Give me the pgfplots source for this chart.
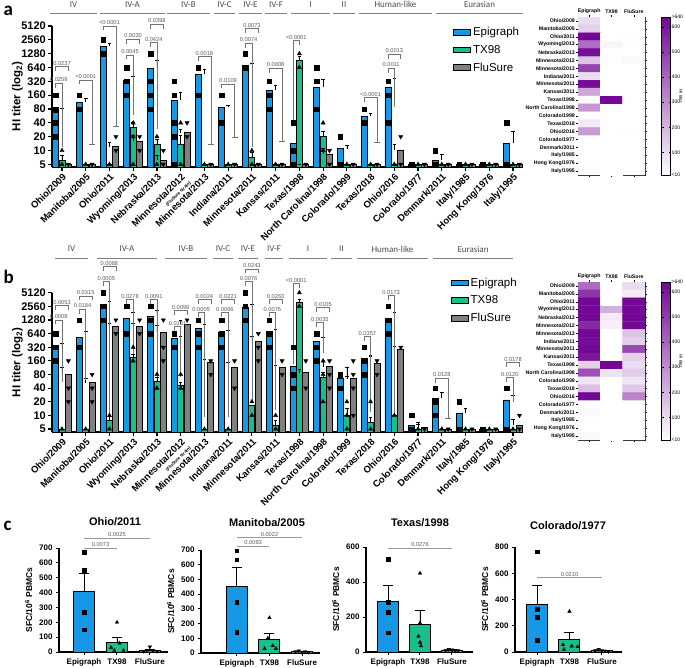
\documentclass[border=0pt]{standalone}
\usepackage{pgfplots}
\pgfplotsset{compat=1.18}
\usepackage{fontspec}
\setmainfont{Liberation Sans}
\newfontfamily\carl{Carlito}
\definecolor{epi}{RGB}{22,152,230}
\definecolor{tx}{RGB}{24,190,140}
\definecolor{flu}{RGB}{128,128,128}
\definecolor{hm}{RGB}{115,8,150}
\newcommand\brk[6]{\draw[br] (axis cs:#1,#4) -- (axis cs:#1,#3) -- node[pl]{#6} (axis cs:#2,#3) -- (axis cs:#2,#5);}
\newcommand\capx[2]{\draw[br] ([xshift=-3pt]axis cs:#1,#2) -- ([xshift=3pt]axis cs:#1,#2);}
\newcommand\xlabs{Ohio/2009,Manitoba/2005,Ohio/2011,Wyoming/2013,Nebraska/2013,{Minnesota/2012\\{\fontsize{4.5}{5}\selectfont(FluSure strain)}},Minnesota/2013,Indiana/2011,Minnesota/2011,Kansas/2011,Texas/1998,North Carolina/1998,Colorado/1999,Texas/2018,Ohio/2016,Colorado/1977,Denmark/2011,Italy/1985,Hong Kong/1976,Italy/1995}
\newcommand\hlabs{Ohio/2009,Manitoba/2005,Ohio/2011,Wyoming/2013,Nebraska/2013,Minnesota/2012,Minnesota/2013,Indiana/2011,Minnesota/2011,Kansas/2011,Texas/1998,North Carolina/1998,Colorado/1999,Texas/2018,Ohio/2016,Colorado/1977,Denmark/2011,Italy/1985,Hong Kong/1976,Italy/1995}
\tikzset{br/.style={draw=black!55, line width=0.6pt},
 pl/.style={above, font=\fontsize{5.7}{6}\selectfont, text=black!65, inner sep=1pt},
 grp/.style={font=\carl\fontsize{9}{10}\selectfont, text=black!70},
 gl/.style={draw=black!50, line width=0.6pt},
 sig/.style={draw=black!40, line width=1pt}}
\pgfplotsset{
 ebbar/.style={ybar, bar width=6pt, bar shift=-6.4pt, fill=epi, draw=black, line width=0.8pt, error bars/y dir=plus, error bars/y explicit, error bars/error bar style={line width=0.7pt, black}, error bars/error mark options={rotate=90, mark size=1.8pt, line width=0.7pt, black}},
 txbar/.style={ybar, bar width=6pt, bar shift=0pt, fill=tx, draw=black, line width=0.8pt, error bars/y dir=plus, error bars/y explicit, error bars/error bar style={line width=0.7pt, black}, error bars/error mark options={rotate=90, mark size=1.8pt, line width=0.7pt, black}},
 flbar/.style={ybar, bar width=6pt, bar shift=6.4pt, fill=flu, draw=black, line width=0.8pt, error bars/y dir=plus, error bars/y explicit, error bars/error bar style={line width=0.7pt, black}, error bars/error mark options={rotate=90, mark size=1.8pt, line width=0.7pt, black}},
 msq/.style={only marks, mark=square*, mark size=2.2pt, black, forget plot},
 mtr/.style={only marks, mark=triangle*, mark size=2.4pt, black, forget plot},
 minv/.style={only marks, mark=triangle*, mark size=2.4pt, mark options={rotate=180}, black, forget plot},
 cbar/.style={ybar, bar width=21pt, bar shift=0pt, draw=black, line width=1pt, error bars/y dir=plus, error bars/y explicit,
  error bars/error bar style={line width=0.8pt, black}, error bars/error mark options={rotate=90, mark size=5pt, line width=0.8pt, black}},
}
\begin{document}
\begin{tikzpicture}[x=1pt,y=1pt]
\path[use as bounding box] (0,0) rectangle (685,-667);
% ---------------- panel labels
\node[font=\carl\bfseries\fontsize{19}{19}\selectfont, anchor=west] at (0,-11) {a};
\node[font=\carl\bfseries\fontsize{19}{19}\selectfont, anchor=west] at (0,-277) {b};
\node[font=\carl\bfseries\fontsize{19}{19}\selectfont, anchor=west] at (0,-526) {c};
% ---------------- group labels
\foreach \a/\b/\t in {50/97/IV,100/165/IV-A,167/210/IV-B,214/235/IV-C,239/262/IV-E,265/287/IV-F,291/330/I,333/355/II,359/432/Human-like,436/523/Eurasian}{
 \draw[gl] (\a,-13) -- (\b,-13);
 \node[grp] at ({(\a+\b)/2},-4.5) {\t};
}
\foreach \a/\b/\t in {55/88/IV,97/157/IV-A,165/207/IV-B,213/233/IV-C,238/258/IV-E,265/283/IV-F,289/327/I,331/352/II,357/428/Human-like,433/513/Eurasian}{
 \draw[gl] (\a,-258) -- (\b,-258);
 \node[grp] at ({(\a+\b)/2},-249) {\t};
}
% ---------------- colorbar titles
\node[rotate=-90, font=\fontsize{4.5}{5}\selectfont] at (681,-96) {HI titer};
\node[rotate=-90, font=\fontsize{4.5}{5}\selectfont] at (681,-361) {HI titer};
% ---------------- panel a
\begin{axis}[at={(52pt,-167pt)}, anchor=south west, height=141pt, ymin=4.38,
  scale only axis, width=471pt, xmin=-0.42, xmax=19.42, ymode=log, log basis y=2, log origin=infty, ymax=5120,
  ytick={5,10,20,40,80,160,320,640,1280,2560,5120}, yticklabels={5,10,20,40,80,160,320,640,1280,2560,5120},
  axis x line*=bottom, axis y line*=left, axis line style={line width=1.5pt}, tick style={line width=1.2pt, black},
  major tick length=4pt, tick align=outside, xtick={0,...,19}, xticklabels/.expand once=\xlabs,
  xticklabel style={rotate=45, anchor=north east, align=right, font=\bfseries\fontsize{9.5}{8}\selectfont, inner sep=1pt},
  yticklabel style={font=\bfseries\fontsize{11}{11}\selectfont, inner sep=2pt},
  ylabel={HI titer (log\textsubscript{2})}, ylabel style={font=\bfseries\fontsize{11.5}{12}\selectfont, yshift=-7pt},
  clip=false, /pgf/number format/assume math mode=true, area legend,
  legend style={draw=none, fill=none, font=\fontsize{11.5}{13}\selectfont, row sep=4pt, anchor=north west, cells={anchor=west}, at={(0.845,1.02)}}]
\addplot[ebbar] coordinates {(0,69) +- (0,15) (1,112) +- (0,25) (2,1850) +- (0,300) (3,342) +- (0,70) (4,614) +- (0,300) (5,125) +- (0,60) (6,453) +- (0,130) (7,87) +- (0,10) (8,700) +- (0,100) (9,207) +- (0,50) (10,14.3) +- (0,8) (11,237) +- (0,120) (12,11) +- (0,2) (13,56) +- (0,10) (14,233) +- (0,130) (15,5) +- (0,0) (16,6.1) +- (0,2) (17,5) +- (0,0) (18,5) +- (0,0) (19,14.3) +- (0,12)};
\addplot[txbar] coordinates {(0,6.2) +- (0,1.5) (1,5) +- (0,0) (2,5) +- (0,0) (3,32) +- (0,10) (4,13.8) +- (0,4) (5,13.8) +- (0,8) (6,5) +- (0,0) (7,5) +- (0,0) (8,7.1) +- (0,2) (9,5) +- (0,0) (10,900) +- (0,200) (11,20.7) +- (0,6) (12,5) +- (0,0) (13,5) +- (0,0) (14,5) +- (0,0) (15,5) +- (0,0) (16,5) +- (0,0) (17,5) +- (0,0) (18,5) +- (0,0) (19,5) +- (0,0)};
\addplot[flbar] coordinates {(0,5) +- (0,0) (1,5) +- (0,0) (2,12) +- (0,3) (3,16) +- (0,5) (4,6.2) +- (0,1.5) (5,24.5) +- (0,4) (6,5) +- (0,0) (7,5) +- (0,0) (8,5) +- (0,0) (9,5) +- (0,0) (10,5) +- (0,0) (11,8.2) +- (0,3) (12,5) +- (0,0) (13,5) +- (0,0) (14,10.3) +- (0,3) (15,5) +- (0,0) (16,5) +- (0,0) (17,5) +- (0,0) (18,5) +- (0,0) (19,5) +- (0,0)};
\legend{Epigraph,TX98,FluSure}
\addplot[msq] coordinates {(-0.27,160) (-0.27,80) (-0.27,40) (-0.27,20) (0.73,160) (0.73,80) (1.73,2560) (1.73,1280) (2.73,640) (2.73,320) (2.73,160) (3.73,1280) (3.73,320) (3.73,160) (3.73,80) (4.73,320) (4.73,160) (4.73,40) (4.73,20) (4.73,5) (5.73,640) (5.73,160) (6.73,160) (6.73,40) (7.73,1280) (7.73,640) (8.73,320) (8.73,160) (8.73,80) (9.73,40) (9.73,10) (9.73,5) (10.73,640) (10.73,320) (10.73,80) (11.73,20) (11.73,5) (12.73,80) (12.73,40) (13.73,320) (13.73,160) (13.73,40) (14.73,5) (15.73,10) (15.73,5) (16.73,5) (17.73,5) (18.73,40) (18.73,5)};
\addplot[mtr] coordinates {(0,10) (0,5) (1,5) (2,5) (3,40) (3,20) (3,5) (4,20) (4,5) (5,40) (5,5) (6,5) (7,5) (8,10) (8,5) (9,5) (10,1280) (10,640) (11,40) (11,10) (12,5) (13,5) (14,5) (15,5) (16,5) (17,5) (18,5) (19,5)};
\addplot[minv] coordinates {(0.27,5) (1.27,5) (2.27,20) (2.27,10) (3.27,20) (3.27,10) (4.27,10) (4.27,5) (5.27,40) (5.27,20) (6.27,5) (7.27,5) (8.27,5) (9.27,5) (10.27,5) (11.27,10) (11.27,5) (12.27,5) (13.27,5) (14.27,20) (14.27,5) (15.27,5) (16.27,5) (17.27,5) (18.27,5) (19.27,5)};
\brk{-0.27}{0.27}{667}{540}{540}{0.0237}
\brk{-0.27}{0}{290}{235}{12}{0.0259}
\brk{0.73}{1.27}{342}{275}{14}{<0.0001}\capx{1.27}{14}
\brk{1.73}{2.27}{5120}{4100}{34}{<0.0001}\capx{2.27}{34}
\brk{2.73}{3.27}{2630}{2100}{2100}{0.0030}
\brk{2.73}{3}{1195}{960}{60}{0.0045}
\brk{3.73}{4.27}{5650}{4500}{4500}{0.0398}
\brk{3.73}{4}{2225}{1780}{30}{0.0424}
\brk{5.73}{6.27}{1100}{880}{14}{0.0018}\capx{6.27}{14}
\brk{6.73}{7.27}{280}{225}{19}{0.0109}\capx{7.27}{19}
\brk{7.73}{8.27}{4550}{3640}{3640}{0.0073}
\brk{7.73}{8}{2150}{1720}{12}{0.0074}
\brk{8.73}{9.27}{614}{490}{16}{0.0008}\capx{9.27}{16}
\brk{9.73}{10}{2450}{46}{1960}{<0.0001}
\brk{12.73}{13.27}{143}{115}{15}{<0.0001}\capx{13.27}{15}
\brk{13.73}{14.27}{1240}{990}{990}{0.0013}
\brk{13.73}{14}{614}{490}{87}{0.0011}
\end{axis}
% ---------------- panel b
\begin{axis}[at={(52pt,-432pt)}, anchor=south west, height=139.3pt, ymin=4.3,
  scale only axis, width=471pt, xmin=-0.42, xmax=19.42, ymode=log, log basis y=2, log origin=infty, ymax=5120,
  ytick={5,10,20,40,80,160,320,640,1280,2560,5120}, yticklabels={5,10,20,40,80,160,320,640,1280,2560,5120},
  axis x line*=bottom, axis y line*=left, axis line style={line width=1.5pt}, tick style={line width=1.2pt, black},
  major tick length=4pt, tick align=outside, xtick={0,...,19}, xticklabels/.expand once=\xlabs,
  xticklabel style={rotate=45, anchor=north east, align=right, font=\bfseries\fontsize{9.5}{8}\selectfont, inner sep=1pt},
  yticklabel style={font=\bfseries\fontsize{11}{11}\selectfont, inner sep=2pt},
  ylabel={HI titer (log\textsubscript{2})}, ylabel style={font=\bfseries\fontsize{11.5}{12}\selectfont, yshift=-7pt},
  clip=false, /pgf/number format/assume math mode=true, area legend,
  legend style={draw=none, fill=none, font=\fontsize{11.5}{13}\selectfont, row sep=4pt, anchor=north west, cells={anchor=west}, at={(0.84,1.135)}}]
\addplot[ebbar] coordinates {(0,303) +- (0,80) (1,528) +- (0,200) (2,2880) +- (0,500) (3,1390) +- (0,500) (4,1565) +- (0,500) (5,502) +- (0,60) (6,834) +- (0,200) (7,670) +- (0,100) (8,2425) +- (0,400) (9,705) +- (0,80) (10,119) +- (0,50) (11,425) +- (0,100) (12,65) +- (0,8) (13,179) +- (0,30) (14,1390) +- (0,500) (15,6.1) +- (0,1) (16,24) +- (0,8) (17,11.1) +- (0,3) (18,5) +- (0,0) (19,22) +- (0,6)};
\addplot[txbar] coordinates {(0,5) +- (0,0) (1,5) +- (0,0) (2,7.9) +- (0,2) (3,188) +- (0,30) (4,55) +- (0,15) (5,47) +- (0,8) (6,5) +- (0,0) (7,5) +- (0,0) (8,16.9) +- (0,0) (9,6.1) +- (0,1.5) (10,3080) +- (0,600) (11,69) +- (0,20) (12,10.2) +- (0,4) (13,7) +- (0,2) (14,10.2) +- (0,0) (15,5) +- (0,0) (16,5) +- (0,0) (17,5) +- (0,0) (18,5) +- (0,0) (19,5) +- (0,0)};
\addplot[flbar] coordinates {(0,80) +- (0,35) (1,53) +- (0,12) (2,906) +- (0,150) (3,906) +- (0,150) (4,680) +- (0,300) (5,1025) +- (0,250) (6,146) +- (0,25) (7,115) +- (0,30) (8,425) +- (0,120) (9,115) +- (0,15) (10,88) +- (0,15) (11,119) +- (0,35) (12,66) +- (0,50) (13,141) +- (0,60) (14,292) +- (0,50) (15,5.4) +- (0,1) (16,5) +- (0,0) (17,5) +- (0,0) (18,5) +- (0,0) (19,6.1) +- (0,2)};
\legend{Epigraph,TX98,FluSure}
\addplot[msq] coordinates {(-0.27,640) (-0.27,320) (-0.27,160) (0.73,1280) (0.73,320) (1.73,5120) (1.73,2560) (1.73,1280) (2.73,2560) (2.73,640) (3.73,2560) (3.73,1280) (3.73,640) (4.73,640) (4.73,320) (5.73,1280) (5.73,640) (5.73,320) (6.73,1280) (6.73,640) (6.73,320) (7.73,5120) (7.73,2560) (7.73,1280) (8.73,1280) (8.73,640) (8.73,320) (9.73,320) (9.73,80) (9.73,40) (10.73,640) (10.73,320) (10.73,160) (11.73,80) (11.73,40) (12.73,320) (12.73,160) (12.73,80) (13.73,2560) (13.73,1280) (13.73,640) (14.73,10) (14.73,5) (15.73,40) (15.73,20) (15.73,10) (16.73,20) (16.73,5) (17.73,5) (18.73,40) (18.73,5)};
\addplot[mtr] coordinates {(0,5) (1,5) (2,10) (2,5) (3,320) (3,160) (4,80) (4,40) (5,80) (5,40) (6,5) (7,5) (8,20) (8,10) (9,10) (9,5) (10,5120) (10,2560) (11,160) (11,80) (11,20) (12,20) (12,10) (12,5) (13,20) (13,5) (14,10) (15,5) (16,5) (17,5) (18,5) (19,5)};
\addplot[minv] coordinates {(0.27,160) (0.27,40) (0.27,20) (1.27,80) (1.27,40) (1.27,20) (2.27,1280) (2.27,640) (3.27,1280) (3.27,640) (4.27,1280) (4.27,320) (4.27,160) (5.27,1280) (6.27,160) (6.27,80) (7.27,160) (7.27,40) (8.27,640) (8.27,320) (8.27,160) (9.27,160) (9.27,80) (10.27,160) (10.27,40) (11.27,160) (11.27,80) (11.27,40) (12.27,160) (12.27,80) (12.27,40) (12.27,10) (13.27,160) (13.27,80) (14.27,320) (15.27,5) (16.27,5) (17.27,5) (18.27,5) (19.27,10) (19.27,5)};
\brk{-0.27}{0.27}{2650}{2120}{2120}{0.0053}
\brk{-0.27}{0}{1280}{1020}{55}{0.0008}
\brk{0.73}{1.27}{4330}{3460}{3460}{0.0315}
\brk{0.73}{1}{2200}{1760}{60}{0.0184}
\brk{1.73}{2.27}{19250}{15400}{15400}{0.0088}
\brk{1.73}{2}{8950}{7160}{11}{0.0005}
\brk{2.73}{3}{3650}{2920}{230}{0.0278}
\brk{3.73}{4}{3650}{2920}{70}{0.0091}
\brk{4.73}{5.27}{2050}{1640}{1640}{0.0099}
\brk{4.73}{5}{905}{720}{70}{0.0181}
\brk{5.73}{6.27}{3650}{2920}{2920}{0.0024}
\brk{5.73}{6}{1850}{1480}{9}{0.0005}
\brk{6.73}{7.27}{3650}{2920}{2920}{0.0221}
\brk{6.73}{7}{1850}{1480}{9}{0.0066}
\brk{7.73}{8.27}{17100}{13700}{13700}{0.0243}
\brk{7.73}{8}{8950}{7160}{22}{0.0076}
\brk{8.73}{9.27}{3650}{2920}{2920}{0.0263}
\brk{8.73}{9}{1850}{1480}{13}{0.0076}
\brk{9.73}{10}{8200}{140}{6550}{<0.0001}
\brk{10.73}{11.27}{2420}{1940}{1940}{0.0105}
\brk{10.73}{11}{1110}{890}{235}{0.0035}
\brk{12.73}{13}{546}{437}{12}{0.0357}
\brk{13.73}{14}{4400}{3520}{11}{0.0173}
\brk{15.73}{16.27}{66}{53}{8.6}{0.0128}\capx{16.27}{8.6}
\brk{18.73}{19.27}{148}{118}{118}{0.0178}
\brk{18.73}{19}{69}{55}{20}{0.0120}
\end{axis}
% ---------------- heatmap a
\begin{axis}[at={(578pt,-175pt)}, anchor=south west,
  scale only axis, width=67pt, height=158pt, xmin=-0.5, xmax=2.5, ymin=-0.5, ymax=19.5, y dir=reverse,
  xtick={0,1,2}, xticklabels={Epigraph,TX98,FluSure}, xticklabel pos=upper,
  ytick={0,...,19}, yticklabels/.expand once=\hlabs,
  tick align=outside, major tick length=2pt, tick style={black, line width=0.5pt},
  tick label style={font=\bfseries\fontsize{5.2}{6}\selectfont, inner sep=1pt},
  axis line style={line width=1pt},
  colormap={hmap}{color(0)=(white) color(1)=(hm)}, point meta min=10, point meta max=640,
  colorbar, colorbar style={at={(parent axis.north east)}, anchor=north west, xshift=8pt, width=9pt,
   ytick={10,100,200,300,400,500,600,640}, yticklabels={<10,100,200,300,400,500,600,>640},
   yticklabel style={font=\fontsize{5}{5}\selectfont, inner sep=1pt}, major tick length=2pt, axis line style={line width=0.5pt},
   /pgf/number format/assume math mode=true}]
\addplot[matrix plot*, mesh/cols=3, point meta=explicit] table[meta=c] {
x y c
0 0 100
1 0 8
2 0 5
0 1 130
1 1 5
2 1 5
0 2 640
1 2 5
2 2 12
0 3 380
1 3 35
2 3 18
0 4 620
1 4 15
2 4 8
0 5 160
1 5 15
2 5 28
0 6 480
1 6 5
2 6 5
0 7 95
1 7 5
2 7 5
0 8 620
1 8 8
2 8 5
0 9 230
1 9 5
2 9 5
0 10 18
1 10 640
2 10 5
0 11 270
1 11 22
2 11 9
0 12 12
1 12 5
2 12 5
0 13 65
1 13 5
2 13 5
0 14 260
1 14 5
2 14 12
0 15 5
1 15 5
2 15 5
0 16 8
1 16 5
2 16 5
0 17 5
1 17 5
2 17 5
0 18 5
1 18 5
2 18 5
0 19 16
1 19 5
2 19 5
};
\end{axis}
% ---------------- heatmap b
\begin{axis}[at={(578pt,-440pt)}, anchor=south west,
  scale only axis, width=67pt, height=158pt, xmin=-0.5, xmax=2.5, ymin=-0.5, ymax=19.5, y dir=reverse,
  xtick={0,1,2}, xticklabels={Epigraph,TX98,FluSure}, xticklabel pos=upper,
  ytick={0,...,19}, yticklabels/.expand once=\hlabs,
  tick align=outside, major tick length=2pt, tick style={black, line width=0.5pt},
  tick label style={font=\bfseries\fontsize{5.2}{6}\selectfont, inner sep=1pt},
  axis line style={line width=1pt},
  colormap={hmap}{color(0)=(white) color(1)=(hm)}, point meta min=10, point meta max=640,
  colorbar, colorbar style={at={(parent axis.north east)}, anchor=north west, xshift=8pt, width=9pt,
   ytick={10,100,200,300,400,500,600,640}, yticklabels={<10,100,200,300,400,500,600,>640},
   yticklabel style={font=\fontsize{5}{5}\selectfont, inner sep=1pt}, major tick length=2pt, axis line style={line width=0.5pt},
   /pgf/number format/assume math mode=true}]
\addplot[matrix plot*, mesh/cols=3, point meta=explicit] table[meta=c] {
x y c
0 0 380
1 0 5
2 0 100
0 1 520
1 1 5
2 1 60
0 2 640
1 2 10
2 2 640
0 3 640
1 3 210
2 3 640
0 4 640
1 4 60
2 4 640
0 5 550
1 5 50
2 5 640
0 6 640
1 6 5
2 6 160
0 7 620
1 7 5
2 7 130
0 8 640
1 8 18
2 8 470
0 9 600
1 9 6
2 9 130
0 10 130
1 10 640
2 10 100
0 11 450
1 11 80
2 11 140
0 12 75
1 12 10
2 12 75
0 13 170
1 13 8
2 13 150
0 14 640
1 14 10
2 14 320
0 15 6
1 15 5
2 15 5
0 16 26
1 16 5
2 16 5
0 17 12
1 17 5
2 17 5
0 18 5
1 18 5
2 18 5
0 19 24
1 19 5
2 19 7
};
\end{axis}
% ---------------- panel c
\node[font=\bfseries\fontsize{11}{12}\selectfont] at (115,-522) {Ohio/2011};
\node[font=\bfseries\fontsize{11}{12}\selectfont] at (267,-523) {Manitoba/2005};
\node[font=\bfseries\fontsize{11}{12}\selectfont] at (420,-523) {Texas/1998};
\node[font=\bfseries\fontsize{11}{12}\selectfont] at (568,-526) {Colorado/1977};
\begin{axis}[at={(59pt,-652pt)}, anchor=south west, width=109pt, height=104pt, xmin=-0.76, xmax=2.55, ymax=700, ytick={0,100,...,700},
  scale only axis, ymin=0, axis x line*=bottom, axis y line*=left, axis line style={line width=1.2pt},
  tick style={line width=1pt, black}, tick align=outside, major tick length=3pt, xtick={0,1,2},
  xticklabels={Epigraph,TX98,FluSure}, tick label style={font=\bfseries\fontsize{8}{9}\selectfont},
  ylabel={SFC/10\textsuperscript{6} PBMCs}, ylabel style={font=\bfseries\fontsize{8.5}{9}\selectfont},
  /pgf/number format/assume math mode=true, clip=false]
\addplot[cbar, fill=epi] coordinates {(0,410) +- (0,120)};
\addplot[cbar, fill=tx] coordinates {(1,65) +- (0,35)};
\addplot[cbar, fill=flu] coordinates {(2,10) +- (0,6)};
\addplot[msq, mark size=1.8pt] coordinates {(0,670) (0,550) (0,270) (0,150)};
\addplot[mtr, mark size=2pt] coordinates {(1,200) (0.82,30) (0.92,10) (1.08,60) (1.2,10)};
\addplot[minv, mark size=2pt] coordinates {(1.8,5) (1.9,10) (2,35) (2.1,8) (2.22,5)};
\draw[sig] (axis cs:0,700) -- node[pl]{0.0073} (axis cs:1,700);
\draw[sig] (axis cs:0,767) -- node[pl]{0.0025} (axis cs:2,767);
\end{axis}
\begin{axis}[at={(201pt,-653pt)}, anchor=south west, width=119pt, height=103pt, xmin=-1.1, xmax=2.55, ymax=700, ytick={0,100,...,700},
  scale only axis, ymin=0, axis x line*=bottom, axis y line*=left, axis line style={line width=1.2pt},
  tick style={line width=1pt, black}, tick align=outside, major tick length=3pt, xtick={0,1,2},
  xticklabels={Epigraph,TX98,FluSure}, tick label style={font=\bfseries\fontsize{8}{9}\selectfont},
  ylabel={SFC/10\textsuperscript{6} PBMCs}, ylabel style={font=\bfseries\fontsize{8.5}{9}\selectfont},
  /pgf/number format/assume math mode=true, clip=false]
\addplot[cbar, fill=epi] coordinates {(0,450) +- (0,130)};
\addplot[cbar, fill=tx] coordinates {(1,90) +- (0,42)};
\addplot[cbar, fill=flu] coordinates {(2,10) +- (0,4)};
\addplot[msq, mark size=1.8pt] coordinates {(0,695) (0,635) (0,345) (0,140)};
\addplot[mtr, mark size=2pt] coordinates {(1,240) (0.85,30) (0.95,100) (1.1,50) (1.2,30)};
\addplot[minv, mark size=2pt] coordinates {(1.8,10) (1.9,15) (2,5) (2.1,10) (2.2,5)};
\draw[sig] (axis cs:0,727) -- node[pl]{0.0093} (axis cs:1,727);
\draw[sig] (axis cs:0,782) -- node[pl]{0.0022} (axis cs:2,782);
\end{axis}
\begin{axis}[at={(366pt,-652pt)}, anchor=south west, width=107pt, height=105pt, xmin=-0.69, xmax=2.66, ymax=600, ytick={0,200,...,600},
  scale only axis, ymin=0, axis x line*=bottom, axis y line*=left, axis line style={line width=1.2pt},
  tick style={line width=1pt, black}, tick align=outside, major tick length=3pt, xtick={0,1,2},
  xticklabels={Epigraph,TX98,FluSure}, tick label style={font=\bfseries\fontsize{8}{9}\selectfont},
  ylabel={SFC/10\textsuperscript{6} PBMCs}, ylabel style={font=\bfseries\fontsize{8.5}{9}\selectfont},
  /pgf/number format/assume math mode=true, clip=false]
\addplot[cbar, fill=epi] coordinates {(0,288) +- (0,90)};
\addplot[cbar, fill=tx] coordinates {(1,160) +- (0,78)};
\addplot[cbar, fill=flu] coordinates {(2,10) +- (0,4)};
\addplot[msq, mark size=1.8pt] coordinates {(0,530) (0,285) (0,228) (0,110)};
\addplot[mtr, mark size=2pt] coordinates {(1,450) (1,165) (0.95,90) (1,55) (1.03,35)};
\addplot[minv, mark size=2pt] coordinates {(1.8,10) (1.9,15) (2,12) (2.1,5) (2.2,8)};
\draw[sig] (axis cs:0,594) -- node[pl]{0.0276} (axis cs:2,594);
\end{axis}
\begin{axis}[at={(515pt,-652pt)}, anchor=south west, width=107pt, height=105pt, xmin=-0.68, xmax=2.62, ymax=800, ytick={0,200,...,800},
  scale only axis, ymin=0, axis x line*=bottom, axis y line*=left, axis line style={line width=1.2pt},
  tick style={line width=1pt, black}, tick align=outside, major tick length=3pt, xtick={0,1,2},
  xticklabels={Epigraph,TX98,FluSure}, tick label style={font=\bfseries\fontsize{8}{9}\selectfont},
  ylabel={SFC/10\textsuperscript{6} PBMCs}, ylabel style={font=\bfseries\fontsize{8.5}{9}\selectfont},
  /pgf/number format/assume math mode=true, clip=false]
\addplot[cbar, fill=epi] coordinates {(0,362) +- (0,145)};
\addplot[cbar, fill=tx] coordinates {(1,98) +- (0,55)};
\addplot[cbar, fill=flu] coordinates {(2,10) +- (0,6)};
\addplot[msq, mark size=1.8pt] coordinates {(0,765) (0,325) (0,265) (0,90)};
\addplot[mtr, mark size=2pt] coordinates {(1,310) (0.8,55) (0.83,20) (1.07,45) (1.25,40)};
\addplot[minv, mark size=2pt] coordinates {(1.8,10) (1.9,20) (2,10) (2.1,8) (2.2,5)};
\draw[sig] (axis cs:0,564) -- node[pl]{0.0210} (axis cs:2,564);
\end{axis}
\end{tikzpicture}
\end{document}
